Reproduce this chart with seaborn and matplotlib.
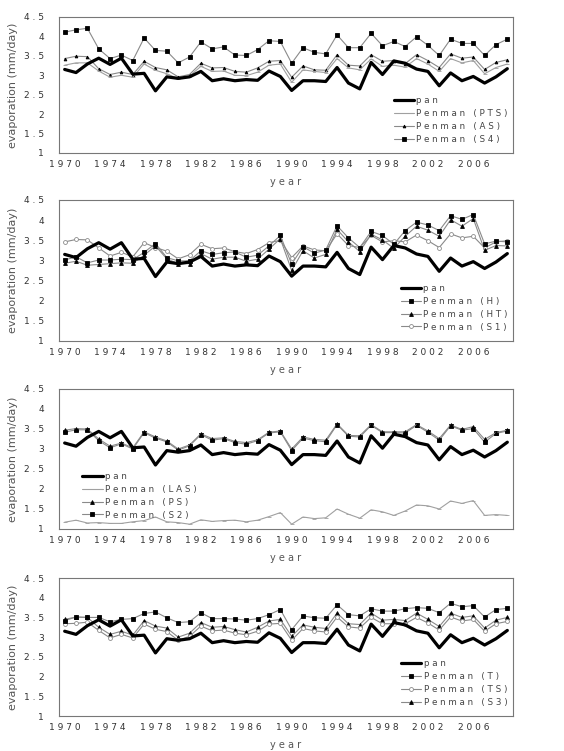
import numpy as np
import pandas as pd
import seaborn as sns
import matplotlib
matplotlib.use("Agg")
import matplotlib.pyplot as plt
from matplotlib.lines import Line2D

years = list(range(1970, 2010))

pan = [3.15, 3.07, 3.29, 3.44, 3.28, 3.44, 3.03, 3.05, 2.60, 2.96,
       2.92, 2.96, 3.10, 2.86, 2.91, 2.86, 2.89, 2.87, 3.11, 2.97,
       2.61, 2.86, 2.86, 2.84, 3.20, 2.80, 2.65, 3.33, 3.02, 3.37,
       3.31, 3.16, 3.10, 2.73, 3.06, 2.86, 2.97, 2.80, 2.96, 3.17]

# panel 1
pts = [3.26, 3.32, 3.32, 3.11, 2.95, 3.00, 2.95, 3.29, 3.13, 3.04,
       2.91, 2.98, 3.23, 3.10, 3.11, 3.00, 2.99, 3.08, 3.26, 3.29,
       2.82, 3.14, 3.10, 3.07, 3.43, 3.19, 3.14, 3.42, 3.23, 3.26,
       3.21, 3.43, 3.29, 3.10, 3.43, 3.32, 3.38, 3.04, 3.20, 3.29]
as_ = [3.43, 3.49, 3.48, 3.17, 3.02, 3.08, 3.02, 3.36, 3.20, 3.14,
       2.96, 3.02, 3.31, 3.19, 3.20, 3.10, 3.08, 3.19, 3.36, 3.38,
       2.95, 3.24, 3.14, 3.13, 3.53, 3.26, 3.24, 3.53, 3.36, 3.38,
       3.30, 3.53, 3.38, 3.20, 3.55, 3.44, 3.47, 3.15, 3.33, 3.40]
s4 = [4.11, 4.17, 4.21, 3.68, 3.43, 3.52, 3.38, 3.96, 3.64, 3.62,
      3.32, 3.47, 3.86, 3.68, 3.73, 3.52, 3.51, 3.66, 3.89, 3.87,
      3.31, 3.71, 3.59, 3.55, 4.04, 3.71, 3.71, 4.08, 3.76, 3.87,
      3.74, 3.99, 3.77, 3.51, 3.93, 3.82, 3.82, 3.51, 3.79, 3.93]

# panel 2
h = [3.01, 3.09, 2.94, 3.01, 3.01, 3.03, 3.02, 3.20, 3.42, 3.07,
     2.99, 2.99, 3.24, 3.15, 3.19, 3.21, 3.08, 3.13, 3.36, 3.62,
     2.91, 3.34, 3.18, 3.26, 3.86, 3.56, 3.32, 3.72, 3.62, 3.40,
     3.74, 3.95, 3.88, 3.74, 4.11, 4.02, 4.14, 3.41, 3.48, 3.46]
ht = [2.93, 2.98, 2.88, 2.90, 2.92, 2.94, 2.93, 3.13, 3.36, 3.04,
      2.92, 2.92, 3.17, 3.03, 3.08, 3.08, 2.98, 3.03, 3.28, 3.54,
      2.75, 3.24, 3.06, 3.15, 3.77, 3.46, 3.22, 3.65, 3.51, 3.30,
      3.60, 3.85, 3.75, 3.60, 4.01, 3.85, 4.04, 3.25, 3.37, 3.36]
s1 = [3.46, 3.52, 3.51, 3.31, 3.11, 3.20, 3.09, 3.44, 3.32, 3.23,
      3.04, 3.14, 3.40, 3.29, 3.31, 3.22, 3.17, 3.27, 3.44, 3.50,
      3.07, 3.36, 3.26, 3.24, 3.66, 3.37, 3.32, 3.62, 3.46, 3.49,
      3.46, 3.63, 3.49, 3.32, 3.66, 3.56, 3.60, 3.31, 3.46, 3.49]

# panel 3
las = [1.17, 1.22, 1.15, 1.16, 1.14, 1.14, 1.18, 1.21, 1.30, 1.18,
       1.16, 1.12, 1.23, 1.19, 1.21, 1.22, 1.18, 1.22, 1.31, 1.41,
       1.12, 1.30, 1.26, 1.28, 1.50, 1.37, 1.27, 1.48, 1.43, 1.34,
       1.45, 1.60, 1.58, 1.50, 1.70, 1.64, 1.71, 1.34, 1.36, 1.34]
ps = [3.47, 3.51, 3.50, 3.25, 3.07, 3.15, 3.03, 3.43, 3.30, 3.20,
      3.00, 3.10, 3.38, 3.26, 3.28, 3.19, 3.16, 3.23, 3.42, 3.45,
      3.00, 3.30, 3.24, 3.22, 3.63, 3.34, 3.33, 3.61, 3.43, 3.43,
      3.43, 3.61, 3.45, 3.26, 3.60, 3.49, 3.56, 3.24, 3.41, 3.47]
s2 = [3.42, 3.48, 3.48, 3.21, 3.03, 3.13, 3.00, 3.41, 3.27, 3.18,
      2.97, 3.08, 3.36, 3.22, 3.26, 3.16, 3.12, 3.21, 3.40, 3.43,
      2.96, 3.27, 3.21, 3.18, 3.61, 3.32, 3.30, 3.59, 3.41, 3.41,
      3.40, 3.59, 3.42, 3.22, 3.58, 3.47, 3.51, 3.17, 3.39, 3.45]

# panel 4
t = [3.42, 3.51, 3.50, 3.50, 3.39, 3.45, 3.47, 3.60, 3.64, 3.49,
     3.37, 3.39, 3.62, 3.47, 3.47, 3.46, 3.43, 3.47, 3.57, 3.70,
     3.19, 3.54, 3.49, 3.48, 3.82, 3.57, 3.54, 3.72, 3.66, 3.66,
     3.72, 3.75, 3.73, 3.62, 3.86, 3.77, 3.80, 3.51, 3.70, 3.73]
ts = [3.34, 3.35, 3.38, 3.17, 2.98, 3.07, 2.98, 3.33, 3.20, 3.14,
      2.92, 3.02, 3.28, 3.16, 3.18, 3.10, 3.06, 3.15, 3.33, 3.35,
      2.92, 3.22, 3.16, 3.13, 3.51, 3.26, 3.23, 3.50, 3.34, 3.34,
      3.34, 3.50, 3.36, 3.18, 3.51, 3.41, 3.45, 3.15, 3.34, 3.40]
s3 = [3.45, 3.51, 3.50, 3.25, 3.07, 3.15, 3.05, 3.42, 3.28, 3.23,
      3.00, 3.10, 3.37, 3.25, 3.27, 3.19, 3.13, 3.25, 3.41, 3.45,
      3.02, 3.31, 3.25, 3.22, 3.61, 3.34, 3.32, 3.61, 3.43, 3.45,
      3.42, 3.61, 3.45, 3.27, 3.61, 3.50, 3.54, 3.23, 3.43, 3.50]

y_ticks = [1, 1.5, 2, 2.5, 3, 3.5, 4, 4.5]
x_tick_years = list(range(1970, 2010, 4))

def spaced(s):
    return " ".join(list(s))

sns.set_style("white")
plt.rcParams['font.family'] = ['DejaVu Sans']

W, H = 564, 751
fig = plt.figure(figsize=(W / 100, H / 100), dpi=100)

# (left, top, right, bottom) in pixels
boxes = [(59, 17, 513, 153), (59, 200, 513, 341), (59, 389, 513, 529), (59, 578, 513, 716)]

GRAY_LINE = "#8a8a8a"

styles = {
    "pan": dict(color="black", lw=2.3, marker=None, mfc=None, mec=None, ms=0),
    "square": dict(color=GRAY_LINE, lw=0.8, marker="s", mfc="black", mec="black", ms=2.8),
    "triangle": dict(color=GRAY_LINE, lw=0.8, marker="^", mfc="black", mec="black", ms=2.8),
    "smalltri": dict(color=GRAY_LINE, lw=0.8, marker="^", mfc="black", mec="black", ms=2.0),
    "circle": dict(color=GRAY_LINE, lw=0.8, marker="o", mfc="white", mec=GRAY_LINE, ms=2.8),
    "dash": dict(color="#a0a0a0", lw=0.8, marker="_", mfc="#a0a0a0", mec="#a0a0a0", ms=2.5),
}

panels = [
    [("pan", pan, "pan"), ("Penman (PTS)", pts, "dash"), ("Penman (AS)", as_, "smalltri"), ("Penman (S4)", s4, "square")],
    [("pan", pan, "pan"), ("Penman (H)", h, "square"), ("Penman (HT)", ht, "triangle"), ("Penman (S1)", s1, "circle")],
    [("pan", pan, "pan"), ("Penman (LAS)", las, "dash"), ("Penman (PS)", ps, "triangle"), ("Penman (S2)", s2, "square")],
    [("pan", pan, "pan"), ("Penman (T)", t, "square"), ("Penman (TS)", ts, "circle"), ("Penman (S3)", s3, "triangle")],
]

legend_locs = ["lower right", "lower right", "lower left", "lower right"]
legend_anchor = [(1.0, 0.03), (1.0, 0.03), (0.04, 0.03), (1.0, 0.03)]

for i, (box, series) in enumerate(zip(boxes, panels)):
    l, tp, r, b = box
    ax = fig.add_axes([l / W, 1 - b / H, (r - l) / W, (b - tp) / H])
    handles = []
    for name, vals, st in reversed(series):
        s = styles[st]
        df = pd.DataFrame({"year": years, "value": vals})
        kw = dict(color=s["color"], linewidth=s["lw"], ax=ax, legend=False)
        if s["marker"]:
            kw.update(marker=s["marker"], markerfacecolor=s["mfc"], markeredgecolor=s["mec"],
                      markersize=s["ms"], markeredgewidth=0.6)
        sns.lineplot(data=df, x="year", y="value", zorder=5 if st == "pan" else 3, **kw)
    for name, vals, st in series:
        s = styles[st]
        if s["marker"]:
            hd = Line2D([0], [0], color=s["color"], lw=s["lw"], marker=s["marker"],
                        markerfacecolor=s["mfc"], markeredgecolor=s["mec"], markersize=s["ms"],
                        markeredgewidth=0.6)
        else:
            hd = Line2D([0], [0], color=s["color"], lw=s["lw"])
        handles.append((hd, spaced(name)))
    ax.set_xlim(1969.5, 2009.5)
    ax.set_ylim(1, 4.5)
    ax.set_yticks(y_ticks)
    ax.set_yticklabels([spaced(f"{v:g}") for v in y_ticks], fontsize=6.5, color="#333333")
    ax.set_xticks(x_tick_years)
    ax.set_xticklabels([spaced(str(y)) for y in x_tick_years], fontsize=6.5, color="#333333")
    ax.set_xticks(np.arange(1969.5, 2010, 1.0), minor=True)
    ax.tick_params(axis="x", which="major", length=0, pad=5)
    ax.tick_params(axis="x", which="minor", length=3, width=0.6, color="#555555", direction="out")
    ax.tick_params(axis="y", which="major", length=3, width=0.6, color="#555555", direction="out", pad=8)
    for sp in ax.spines.values():
        sp.set_color("#777777")
        sp.set_linewidth(0.8)
    ax.set_xlabel(spaced("year"), fontsize=7, color="#555555", labelpad=6)
    ax.set_ylabel("evaporation (mm/day)", fontsize=8, color="#555555", labelpad=4)
    leg = ax.legend([hh for hh, _ in handles], [lab for _, lab in handles],
                    loc=legend_locs[i], bbox_to_anchor=legend_anchor[i], frameon=False,
                    fontsize=6.3, handlelength=2.3, handletextpad=0.3, labelspacing=0.45,
                    borderaxespad=0.2)
    for txt in leg.get_texts():
        txt.set_color("#444444")

fig.savefig("out.png", dpi=100)
